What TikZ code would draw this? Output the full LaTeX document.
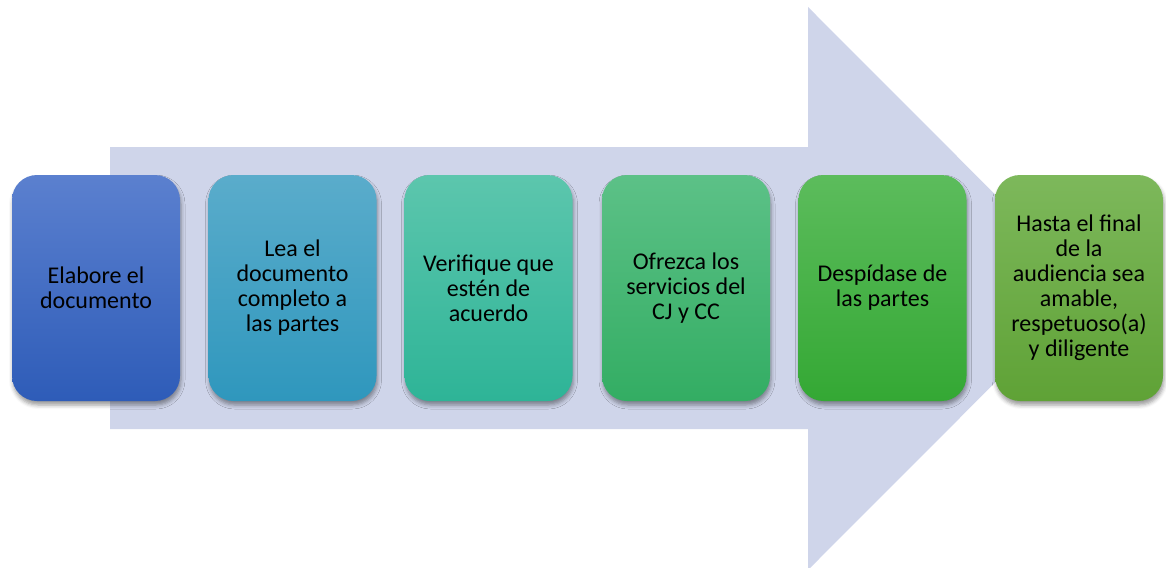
\documentclass[tikz,border=0pt]{standalone}
\usepackage{fontspec}
\setmainfont{Carlito}
\usetikzlibrary{shadows.blur}
\definecolor{arrowcol}{HTML}{CFD5EA}
\definecolor{c1t}{HTML}{5B80CF}\definecolor{c1b}{HTML}{2E5CB8}
\definecolor{c2t}{HTML}{5AACCB}\definecolor{c2b}{HTML}{2F97BD}
\definecolor{c3t}{HTML}{5CC6AD}\definecolor{c3b}{HTML}{2EB497}
\definecolor{c4t}{HTML}{5CC187}\definecolor{c4b}{HTML}{33AD63}
\definecolor{c5t}{HTML}{5CBC5C}\definecolor{c5b}{HTML}{34A834}
\definecolor{c6t}{HTML}{7DB85B}\definecolor{c6b}{HTML}{5FA236}
\tikzset{
  stepbox/.style={rectangle, rounded corners=25pt, minimum width=168pt, minimum height=226pt,
    inner sep=4pt, align=center, text=black,
    font=\fontsize{24}{25}\selectfont,
    blur shadow={shadow xshift=1pt, shadow yshift=-4pt, shadow blur radius=4pt, shadow opacity=40}},
}
\begin{document}
\begin{tikzpicture}[x=1pt,y=-1pt]
\useasboundingbox (0,0) rectangle (1166,567);
\clip (0,0) rectangle (1166,567);
\fill[arrowcol] (110,147) -- (808,147) -- (808,7) -- (1089,288.5) -- (808,570) -- (808,429) -- (110,429) -- cycle;
\node[stepbox, top color=c1t, bottom color=c1b] (b1) at (96,288) {Elabore el\\documento};
\node[stepbox, top color=c2t, bottom color=c2b] (b2) at (292.5,288) {Lea el\\documento\\completo a\\las partes};
\node[stepbox, top color=c3t, bottom color=c3b] (b3) at (488.5,288) {Verifique que\\estén de\\acuerdo};
\node[stepbox, top color=c4t, bottom color=c4b] (b4) at (686,288) {Ofrezca los\\servicios del\\CJ y CC};
\node[stepbox, top color=c5t, bottom color=c5b] (b5) at (882.5,288) {Despídase de\\las partes};
\node[stepbox, top color=c6t, bottom color=c6b] (b6) at (1079,288) {Hasta el final\\de la\\audiencia sea\\amable,\\respetuoso(a)\\y diligente};
\end{tikzpicture}
\end{document}
